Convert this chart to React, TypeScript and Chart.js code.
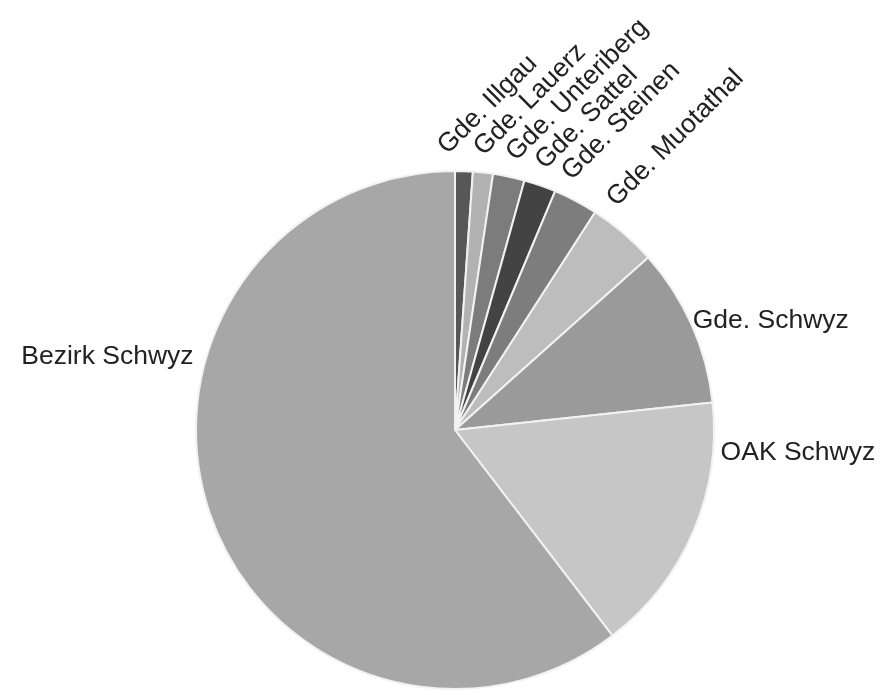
import React, { useEffect, useRef } from "react";
import { Chart, registerables } from "chart.js";

Chart.register(...registerables);

const categories = [
  "Gde. Illgau",
  "Gde. Lauerz",
  "Gde. Unteriberg",
  "Gde. Sattel",
  "Gde. Steinen",
  "Gde. Muotathal",
  "Gde. Schwyz",
  "OAK Schwyz",
  "Bezirk Schwyz",
];
const values = [1.1, 1.25, 1.97, 2.0, 2.78, 4.3, 9.9, 16.3, 60.4];

const sliceColors = [
  "#575757",
  "#b2b2b2",
  "#7c7c7c",
  "#434343",
  "#7d7d7d",
  "#bdbdbd",
  "#9a9a9a",
  "#c6c6c6",
  "#a7a7a7",
];

// label placement style: rotated labels for small slices, horizontal for big ones
const rotatedCount = 6;
const bigLabelFraction = [0.5, 0.205, 0.658]; // position within slice for Schwyz, OAK, Bezirk
const bigLabelGap = [1, 8, -12];
const FONT = '26.5px "Liberation Sans", Arial, sans-serif';

const labelPlugin = {
  id: "pieLabels",
  afterDraw(chart: any) {
    const meta = chart.getDatasetMeta(0);
    const ctx = chart.ctx as CanvasRenderingContext2D;
    ctx.save();
    ctx.font = FONT;
    ctx.fillStyle = "#222222";
    const theta = (-45 * Math.PI) / 180;
    const u = [Math.cos(theta), Math.sin(theta)];
    const n = [-Math.sin(theta), Math.cos(theta)];
    let prevE = -Infinity;
    meta.data.forEach((arc: any, i: number) => {
      const { x, y, startAngle, endAngle, outerRadius } = arc.getProps(
        ["x", "y", "startAngle", "endAngle", "outerRadius"],
        true
      );
      if (i < rotatedCount) {
        const m = (startAngle + endAngle) / 2;
        const rx = outerRadius * Math.cos(m);
        const ry = outerRadius * Math.sin(m);
        let e = n[0] * rx + n[1] * ry - 23;
        if (e < prevE + 26.5) e = prevE + 26.5;
        prevE = e;
        const rl = outerRadius + 16;
        const d = Math.sqrt(Math.max(0, rl * rl - e * e));
        const sx = x + d * u[0] + e * n[0];
        const sy = y + d * u[1] + e * n[1];
        ctx.save();
        ctx.translate(sx, sy);
        ctx.rotate(theta);
        ctx.textAlign = "left";
        ctx.textBaseline = "alphabetic";
        ctx.fillText(categories[i], 0, 0);
        ctx.restore();
      } else {
        const k = i - rotatedCount;
        const f = bigLabelFraction[k];
        const m = startAngle + (endAngle - startAngle) * f;
        const px = x + outerRadius * Math.cos(m);
        const py = y + outerRadius * Math.sin(m);
        const right = Math.cos(m) >= 0;
        ctx.textBaseline = "middle";
        ctx.textAlign = right ? "left" : "right";
        ctx.fillText(categories[i], px + bigLabelGap[k], py - 4);
      }
    });
    ctx.restore();
  },
};

export default function App() {
  const ref = useRef<HTMLCanvasElement | null>(null);
  useEffect(() => {
    if (!ref.current) return;
    const chart = new Chart(ref.current, {
      type: "pie",
      data: {
        labels: categories,
        datasets: [
          {
            data: values,
            backgroundColor: sliceColors,
            borderColor: "#f2f2f2",
            borderWidth: 2,
          },
        ],
      },
      options: {
        responsive: false,
        animation: false,
        layout: { padding: { top: 170, bottom: 5, left: 195, right: 167 } },
        plugins: {
          legend: { display: false },
          tooltip: { enabled: false },
        },
      },
      plugins: [labelPlugin],
    });
    return () => chart.destroy();
  }, []);
  return (
    <div style={{ position: "absolute", left: 0, top: 0, width: 882, height: 695, background: "#fff" }}>
      <canvas ref={ref} width={882} height={695} style={{ display: "block" }} />
    </div>
  );
}
